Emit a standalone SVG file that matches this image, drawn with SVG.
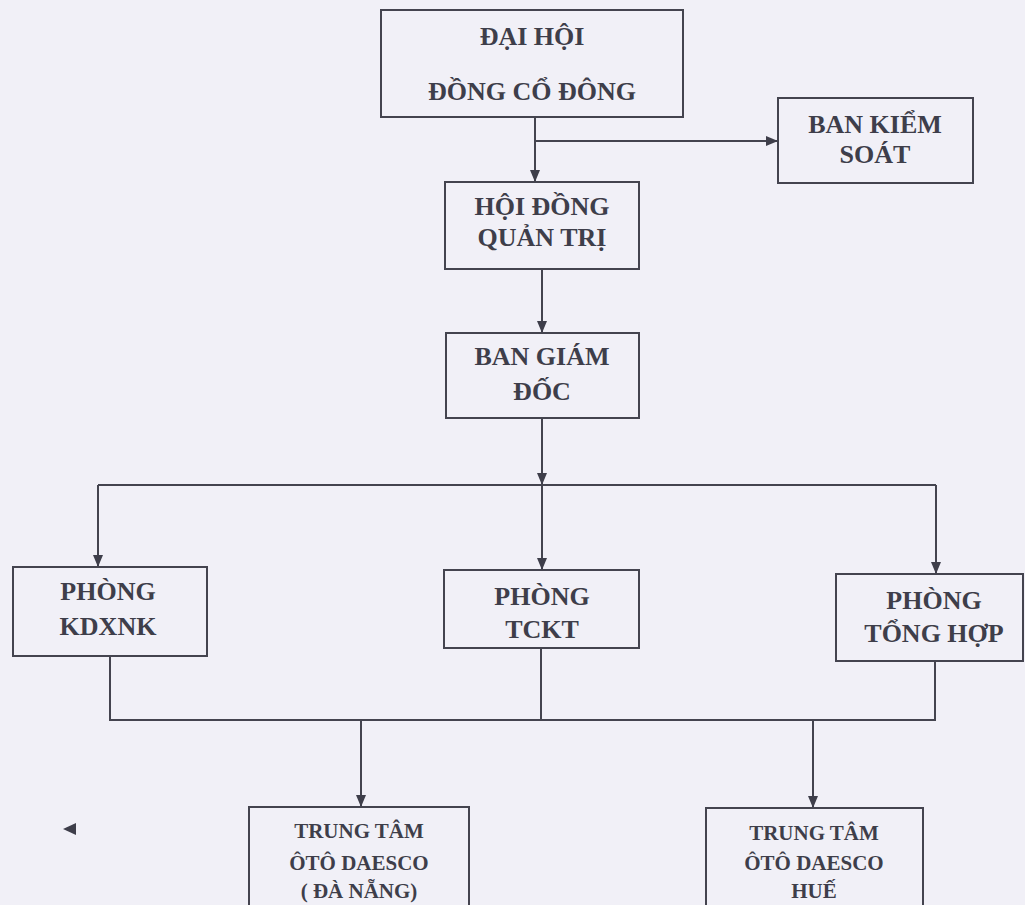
<svg xmlns="http://www.w3.org/2000/svg" width="1025" height="905" viewBox="0 0 1025 905">
<style>
.box{fill:none;stroke:#44444f;stroke-width:2}
.ln{fill:none;stroke:#44444f;stroke-width:2}
.t{font-family:"Liberation Serif","Times New Roman",serif;font-weight:bold;fill:#3e3e4a;text-anchor:middle}
.l{font-size:26px}
.s{font-size:21px}
</style>
<defs>
<marker id="ah" viewBox="0 0 12 10" refX="12" refY="5" markerWidth="12" markerHeight="10" markerUnits="userSpaceOnUse" orient="auto">
<path d="M0,0 L12,5 L0,10 Z" fill="#3e3e4a"/>
</marker>
</defs>
<rect x="0" y="0" width="1025" height="905" fill="#f1f0f7"/>
<g id="connectors">
<path class="ln" d="M535,117 V182" marker-end="url(#ah)"/>
<path class="ln" d="M535,141 H778" marker-end="url(#ah)"/>
<path class="ln" d="M542,269 V333" marker-end="url(#ah)"/>
<path class="ln" d="M542,418 V485" marker-end="url(#ah)"/>
<path class="ln" d="M98,485 H936"/>
<path class="ln" d="M98,485 V567" marker-end="url(#ah)"/>
<path class="ln" d="M542,485 V570" marker-end="url(#ah)"/>
<path class="ln" d="M936,485 V574" marker-end="url(#ah)"/>
<path class="ln" d="M110,656 V720 H935 V661"/>
<path class="ln" d="M541,648 V720"/>
<path class="ln" d="M361,720 V807" marker-end="url(#ah)"/>
<path class="ln" d="M813,720 V808" marker-end="url(#ah)"/>
<polygon points="63,829 76,823 76,835" fill="#3e3e4a"/>
</g>
<g id="dhcd">
<rect class="box" x="381" y="10" width="302" height="107"/>
<text class="t l" x="532" y="45">ĐẠI HỘI</text>
<text class="t l" x="532" y="100">ĐỒNG CỔ ĐÔNG</text>
</g>
<g id="bks">
<rect class="box" x="778" y="98" width="195" height="85"/>
<text class="t l" x="875" y="133">BAN KIỂM</text>
<text class="t l" x="875" y="163">SOÁT</text>
</g>
<g id="hdqt">
<rect class="box" x="445" y="182" width="194" height="87"/>
<text class="t l" x="542" y="215">HỘI ĐỒNG</text>
<text class="t l" x="542" y="246">QUẢN TRỊ</text>
</g>
<g id="bgd">
<rect class="box" x="446" y="333" width="193" height="85"/>
<text class="t l" x="542" y="365">BAN GIÁM</text>
<text class="t l" x="542" y="400">ĐỐC</text>
</g>
<g id="kdxnk">
<rect class="box" x="13" y="567" width="194" height="89"/>
<text class="t l" x="108" y="600">PHÒNG</text>
<text class="t l" x="108" y="635">KDXNK</text>
</g>
<g id="tckt">
<rect class="box" x="444" y="570" width="195" height="78"/>
<text class="t l" x="542" y="605">PHÒNG</text>
<text class="t l" x="542" y="638">TCKT</text>
</g>
<g id="tonghop">
<rect class="box" x="836" y="574" width="187" height="87"/>
<text class="t l" x="934" y="609">PHÒNG</text>
<text class="t l" x="934" y="642">TỔNG HỢP</text>
</g>
<g id="danang">
<rect class="box" x="249" y="807" width="220" height="115"/>
<text class="t s" x="359" y="838">TRUNG TÂM</text>
<text class="t s" x="359" y="870">ÔTÔ DAESCO</text>
<text class="t s" x="359" y="898">( ĐÀ NẴNG)</text>
</g>
<g id="hue">
<rect class="box" x="706" y="808" width="217" height="115"/>
<text class="t s" x="814" y="840">TRUNG TÂM</text>
<text class="t s" x="814" y="870">ÔTÔ DAESCO</text>
<text class="t s" x="814" y="898">HUẾ</text>
</g>
</svg>
